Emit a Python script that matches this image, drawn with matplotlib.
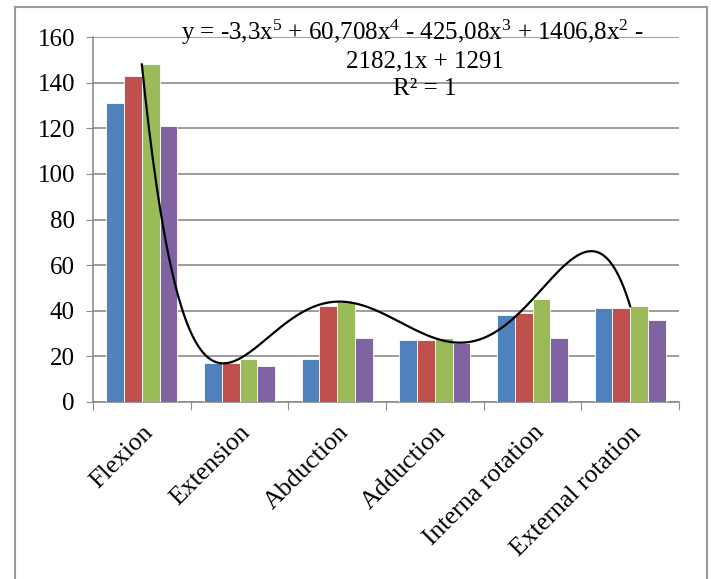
import numpy as np
import matplotlib.pyplot as plt
from matplotlib.lines import Line2D

# =====================================================
# DATA
# =====================================================
categories = ["Flexion", "Extension", "Abduction", "Adduction",
              "Interna rotation", "External rotation"]

series_1 = [131, 17, 19, 27, 38, 41]
series_2 = [143, 17, 42, 27, 39, 41]
series_3 = [148, 19, 44, 28, 45, 42]
series_4 = [121, 16, 28, 26, 28, 36]

all_series = [series_1, series_2, series_3, series_4]
colors = ["#4F81BD", "#C0504D", "#9BBB59", "#8064A2"]

y_ticks = [0, 20, 40, 60, 80, 100, 120, 140, 160]

eq_lines = ["y = -3,3x$^{5}$ + 60,708x$^{4}$ - 425,08x$^{3}$ + 1406,8x$^{2}$ -",
            "2182,1x + 1291",
            "R² = 1"]

# =====================================================
# STYLE
# =====================================================
plt.rcParams["font.family"] = ["Liberation Serif", "DejaVu Serif"]
plt.rcParams["mathtext.fontset"] = "custom"
plt.rcParams["mathtext.rm"] = "Liberation Serif"
plt.rcParams["mathtext.it"] = "Liberation Serif"

grid_c = "#8C8C8C"
fs = 18
W, H = 711, 579

fig = plt.figure(figsize=(7.11, 5.79), dpi=100)
ax = fig.add_axes([0.1308, 0.3057, 0.8242, 0.6303])

# =====================================================
# BARS
# =====================================================
n = len(categories)
x = np.arange(n)
w = 1 / 5.5  # gap width 150%

for i, (vals, c) in enumerate(zip(all_series, colors)):
    ax.bar(x + (i - 1.5) * w, vals, width=w, color=c,
           edgecolor="white", linewidth=0.6, zorder=3)

# =====================================================
# TRENDLINE (poly 5 on third series)
# =====================================================
coef = np.polyfit(np.arange(1, n + 1), series_3, 5)
xs = np.linspace(1, n, 400)
ax.plot(xs - 1, np.polyval(coef, xs), color="black", linewidth=1.6, zorder=4)

# equation label, one text per line (pixel positions of the baselines)
for line, cx, by in zip(eq_lines, [412, 425, 425], [40, 67, 95]):
    fig.text(cx / W, 1 - by / H, line, ha="center", va="baseline",
             fontsize=fs, zorder=5)

# =====================================================
# AXES
# =====================================================
ax.set_xlim(-0.5, n - 0.5)
ax.set_ylim(0, 160)
ax.set_yticks(y_ticks)
ax.tick_params(axis="y", labelsize=fs, length=5, color=grid_c, direction="out", pad=8)
ax.yaxis.grid(True, color=grid_c, linewidth=1.2, zorder=0)

ax.set_xticks(np.arange(-0.5, n, 1.0))
ax.set_xticklabels([])
ax.tick_params(axis="x", length=6, color=grid_c, direction="out")
ax.set_xticks(x, minor=True)
ax.set_xticklabels(categories, minor=True, rotation=45, ha="right",
                   rotation_mode="anchor", fontsize=18.5)
ax.tick_params(axis="x", which="minor", length=0, pad=14)

for s in ["top", "right"]:
    ax.spines[s].set_visible(False)
for s in ["left", "bottom"]:
    ax.spines[s].set_color(grid_c)
    ax.spines[s].set_linewidth(1.2)

# outer chart frame
for xd, yd in [([0.021, 0.021], [0.0, 0.988]),
               ([0.021, 0.994], [0.988, 0.988]),
               ([0.994, 0.994], [0.0, 0.988])]:
    fig.add_artist(Line2D(xd, yd, transform=fig.transFigure,
                          color="#9A9A9A", linewidth=1.5))

fig.savefig("out.png", dpi=100)
